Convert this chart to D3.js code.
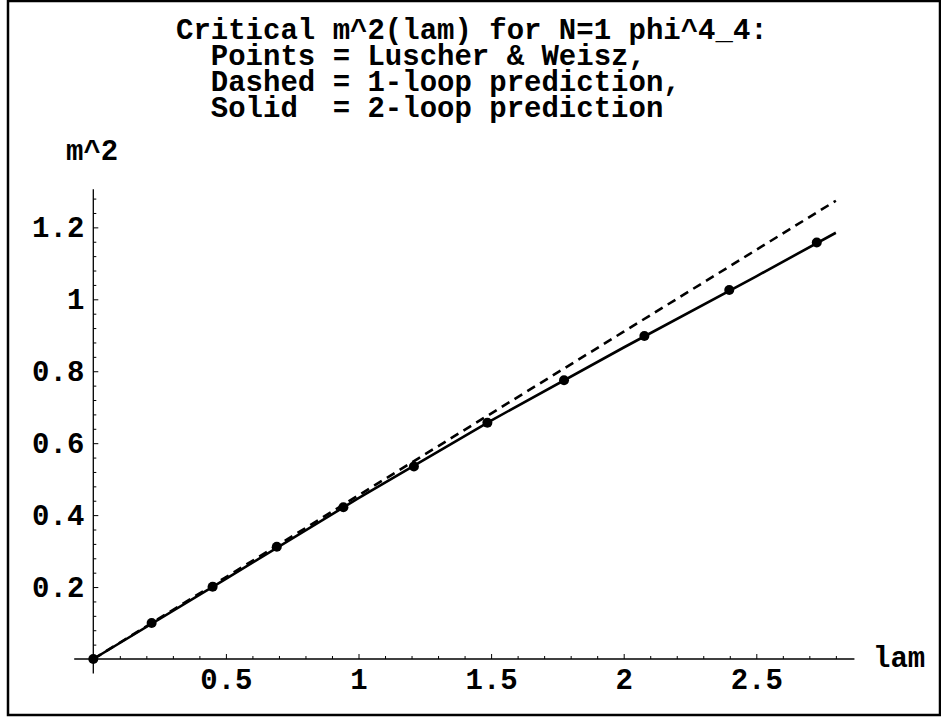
<!DOCTYPE html>
<html>
<head>
<meta charset="utf-8">
<script src="https://d3js.org/d3.v7.min.js"></script>
<style>
  body { margin: 0; background: #fff; }
  text { font-family: "Liberation Mono", "Courier New", monospace; font-weight: bold; }
</style>
</head>
<body>
<script>
// data
var lam      = [0, 0.220, 0.450, 0.692, 0.943, 1.209, 1.486, 1.775, 2.078, 2.398, 2.728];
var m2       = [0, 0.100, 0.201, 0.312, 0.422, 0.535, 0.657, 0.775, 0.898, 1.026, 1.158];

var lam1Loop = [0, 1.0, 2.0, 2.8];
var m21Loop  = [0, 0.455, 0.910, 1.274];

var lam2Loop = [0, 0.5, 1.0, 1.5, 2.0, 2.5, 2.8];
var m22Loop  = [0, 0.223, 0.447, 0.663, 0.866, 1.064, 1.185];

var xTicks = [0.5, 1, 1.5, 2, 2.5];
var yTicks = [0.2, 0.4, 0.6, 0.8, 1, 1.2];
var xTickLabels = ["0.5", "1", "1.5", "2", "2.5"];
var yTickLabels = ["0.2", "0.4", "0.6", "0.8", "1", "1.2"];

var titleLines = [
  "Critical m^2(lam) for N=1 phi^4_4:",
  "  Points = Luscher & Weisz,",
  "  Dashed = 1-loop prediction,",
  "  Solid  = 2-loop prediction"
];

/* ***************************************************************** */
/* SVG INIT ******************************************************** */
var width = 941, height = 717, FS = 29;

var svg = d3.select("body").append("svg")
    .attr("width", width)
    .attr("height", height);

svg.append("rect")
    .attr("width", width).attr("height", height)
    .style("fill", "#fff");

// outer frame
svg.append("rect")
    .attr("x", 8).attr("y", 1)
    .attr("width", 932).attr("height", 714)
    .style("fill", "none").style("stroke", "#000").style("stroke-width", 2.5);

var x = d3.scaleLinear().domain([0, 2.5]).range([93.3, 756.3]);
var y = d3.scaleLinear().domain([0, 1]).range([659, 299.3]);

/* ***************************************************************** */
/* TITLE *********************************************************** */
svg.append("g").selectAll("text")
    .data(titleLines).enter().append("text")
    .attr("x", 176)
    .attr("y", function (d, i) { return 39 + i * 26; })
    .attr("xml:space", "preserve")
    .style("white-space", "pre")
    .style("font-size", FS + "px")
    .text(function (d) { return d; });

/* ***************************************************************** */
/* AXES ************************************************************ */
var minorX = d3.range(1, 29).map(function (i) { return i / 10; })
    .filter(function (v) { return Math.abs(v * 2 - Math.round(v * 2)) > 1e-6; });
var minorY = d3.range(1, 33).map(function (i) { return i * 0.04; })
    .filter(function (v) { return Math.abs(v * 5 - Math.round(v * 5)) > 1e-6; });

// axis lines
svg.append("line")
    .attr("x1", x(-0.072)).attr("x2", x(2.87))
    .attr("y1", y(0)).attr("y2", y(0))
    .style("stroke", "#000").style("stroke-width", 1.3);
svg.append("line")
    .attr("x1", x(0)).attr("x2", x(0))
    .attr("y1", y(-0.04)).attr("y2", y(1.306))
    .style("stroke", "#000").style("stroke-width", 1.3);

var gx = svg.append("g").attr("transform", "translate(0," + y(0) + ")")
    .call(d3.axisBottom(x).tickValues(xTicks).tickSize(-5).tickSizeOuter(0).tickPadding(9)
        .tickFormat(function (d, i) { return xTickLabels[i]; }));
var gxm = svg.append("g").attr("transform", "translate(0," + y(0) + ")")
    .call(d3.axisBottom(x).tickValues(minorX).tickSize(-3).tickFormat(""));

var gy = svg.append("g").attr("transform", "translate(" + x(0) + ",0)")
    .call(d3.axisLeft(y).tickValues(yTicks).tickSize(-5).tickSizeOuter(0).tickPadding(9)
        .tickFormat(function (d, i) { return yTickLabels[i]; }));
var gym = svg.append("g").attr("transform", "translate(" + x(0) + ",0)")
    .call(d3.axisLeft(y).tickValues(minorY).tickSize(-3).tickFormat(""));

[gx, gxm, gy, gym].forEach(function (g) {
  g.select(".domain").remove();
  g.selectAll("line").style("stroke", "#000").style("stroke-width", 1);
  g.selectAll("text").style("font-size", FS + "px").style("fill", "#000")
      .style("font-family", null);
});

// axis labels
svg.append("text").attr("x", 873).attr("y", 667)
    .style("font-size", FS + "px").text("lam");
svg.append("text").attr("x", 66).attr("y", 160)
    .style("font-size", FS + "px").text("m^2");

/* ***************************************************************** */
/* CURVES ********************************************************** */
var line = d3.line()
    .x(function (d) { return x(d[0]); })
    .y(function (d) { return y(d[1]); });

svg.append("path")
    .datum(d3.zip(lam1Loop, m21Loop))
    .attr("d", line)
    .style("fill", "none").style("stroke", "#000")
    .style("stroke-width", 2.6).style("stroke-dasharray", "9,6");

svg.append("path")
    .datum(d3.zip(lam2Loop, m22Loop))
    .attr("d", line)
    .style("fill", "none").style("stroke", "#000")
    .style("stroke-width", 2.6);

svg.append("g").selectAll("circle")
    .data(d3.zip(lam, m2)).enter().append("circle")
    .attr("cx", function (d) { return x(d[0]); })
    .attr("cy", function (d) { return y(d[1]); })
    .attr("r", 5)
    .style("fill", "#000");
</script>
</body>
</html>
